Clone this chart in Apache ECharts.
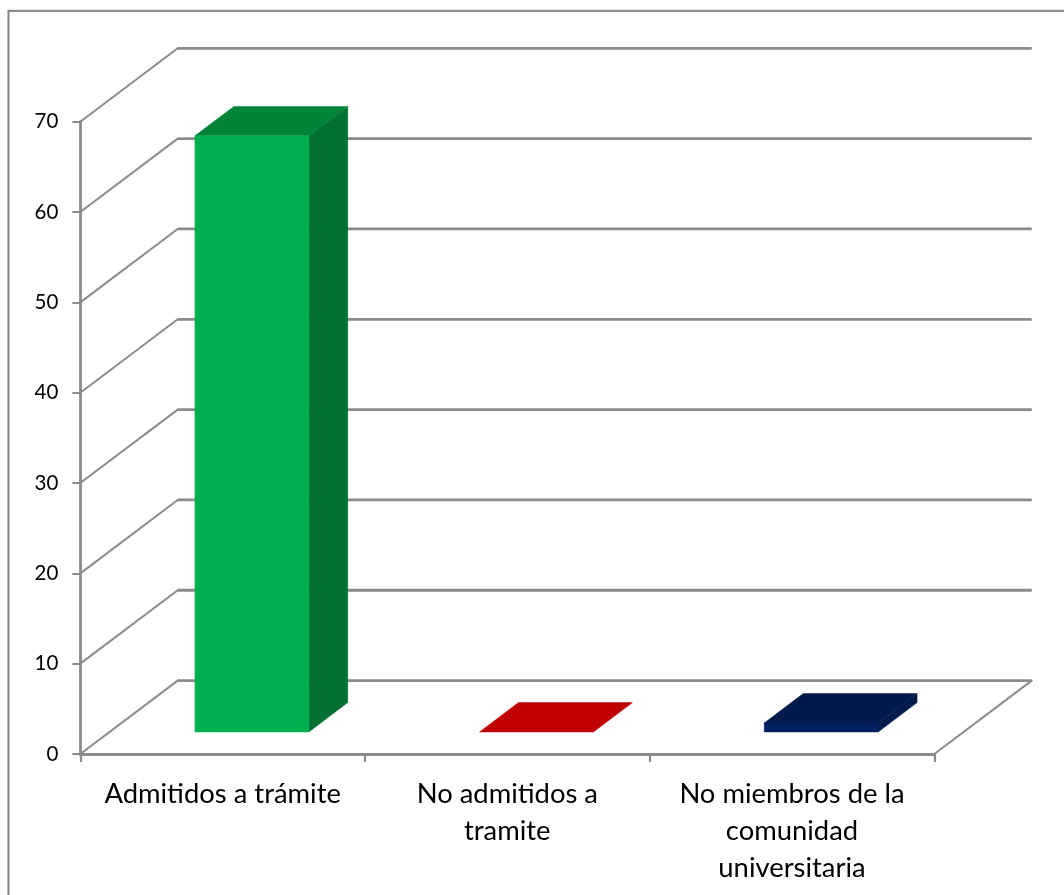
<!DOCTYPE html>
<html><head><meta charset="utf-8">
<style>html,body{margin:0;padding:0;background:#fff}#c{width:1064px;height:895px}</style>
<script src="https://cdn.jsdelivr.net/npm/echarts@6/dist/echarts.min.js"></script>
</head><body><div id="c"></div>
<script>
var categories = ['Admitidos a trámite', 'No admitidos a\ntramite', 'No miembros de la\ncomunidad\nuniversitaria'];
var values = [66, 0, 1];
var yTicks = [0, 10, 20, 30, 40, 50, 60, 70];
var frontColors = ['#00B050', '#C00000', '#002060'];
var topColors = ['#008538', '#C00000', '#001A4B'];
var sideColors = ['#007033', '#A00000', '#001A4B'];

var DX = 97.4, DY = -73.4;       // full floor depth in pixels
var Z0 = 0.3, Z1 = 0.7;          // bar depth span on the floor
var BAR = 0.4;                   // bar width as share of the category band
var GRAY = '#8b8b8b';
var FONT = 'Lato';

var chart = echarts.init(document.getElementById('c'), null, {renderer: 'canvas'});

function renderGrid(params, api) {
  var cs = params.coordSys;
  var v = api.value(1);
  var y = api.coord([0, v])[1];
  var x0 = cs.x, x1 = cs.x + cs.width;
  var children = [
    {type: 'line', shape: {x1: x0, y1: y, x2: x0 + DX, y2: y + DY},
     style: {stroke: GRAY, lineWidth: 2, lineCap: 'round'}},
    {type: 'line', shape: {x1: x0 + DX, y1: y + DY, x2: x1 + DX, y2: y + DY},
     style: {stroke: GRAY, lineWidth: 2.8}}
  ];
  if (v === 0) {
    children.push({type: 'line', shape: {x1: x1, y1: y, x2: x1 + DX, y2: y + DY},
      style: {stroke: GRAY, lineWidth: 2, lineCap: 'round'}});
  }
  return {type: 'group', children: children};
}

function face(points, color) {
  return {type: 'polygon', shape: {points: points},
    style: {fill: color, stroke: color, lineWidth: 0.5}};
}

function renderBar(params, api) {
  var i = params.dataIndex;
  var idx = api.value(0), v = api.value(1);
  var band = api.size([1, 0])[0];
  var c = api.coord([idx, v]), b = api.coord([idx, 0]);
  var w = band * BAR;
  var l = c[0] - w / 2, r = c[0] + w / 2;
  var fx = DX * Z0, fy = DY * Z0, ex = DX * Z1, ey = DY * Z1;
  var top = c[1], bot = b[1];
  var children = [];
  if (top < bot) {
    children.push(face([[r + fx, top + fy], [r + ex, top + ey], [r + ex, bot + ey], [r + fx, bot + fy]], sideColors[i]));
    children.push(face([[l + fx, top + fy], [l + ex, top + ey], [r + ex, top + ey], [r + fx, top + fy]], topColors[i]));
    children.push(face([[l + fx, top + fy], [r + fx, top + fy], [r + fx, bot + fy], [l + fx, bot + fy]], frontColors[i]));
  } else {
    children.push(face([[l + fx, top + fy], [l + ex, top + ey], [r + ex, top + ey], [r + fx, top + fy]], topColors[i]));
  }
  return {type: 'group', children: children};
}

chart.setOption({
  animation: false,
  backgroundColor: '#ffffff',
  graphic: [{
    type: 'polyline', z: 0, silent: true,
    shape: {points: [[8.5, 900], [8.5, 10.8], [1070, 10.8]]},
    style: {fill: 'none', stroke: GRAY, lineWidth: 2.2}
  }],
  grid: {left: 80.3, top: 121.7, width: 854, height: 632.3, containLabel: false},
  xAxis: {
    type: 'category', data: categories, boundaryGap: true,
    axisLine: {show: true, onZero: false, lineStyle: {color: GRAY, width: 2.8}},
    axisTick: {show: true, length: 8, inside: false, alignWithLabel: false, lineStyle: {color: GRAY, width: 2.2}},
    axisLabel: {interval: 0, margin: 22, color: '#000', fontFamily: FONT, fontSize: 27.4, lineHeight: 37, verticalAlign: 'top'},
    splitLine: {show: false}
  },
  yAxis: {
    type: 'value', min: 0, max: 70, interval: 10,
    axisLine: {show: true, lineStyle: {color: GRAY, width: 2.8}},
    axisTick: {show: true, length: 8, lineStyle: {color: GRAY, width: 2}},
    axisLabel: {margin: 22, color: '#000', fontFamily: FONT, fontSize: 20.5},
    splitLine: {show: false}
  },
  series: [
    {type: 'custom', name: 'Rejilla', renderItem: renderGrid, z: 1, silent: true,
     data: yTicks.map(function (v) { return [0, v]; }), encode: {x: 0, y: 1}},
    {type: 'custom', name: 'Valores', renderItem: renderBar, z: 3, silent: true,
     data: values.map(function (v, i) { return [i, v]; }), encode: {x: 0, y: 1}}
  ]
});
</script></body></html>
